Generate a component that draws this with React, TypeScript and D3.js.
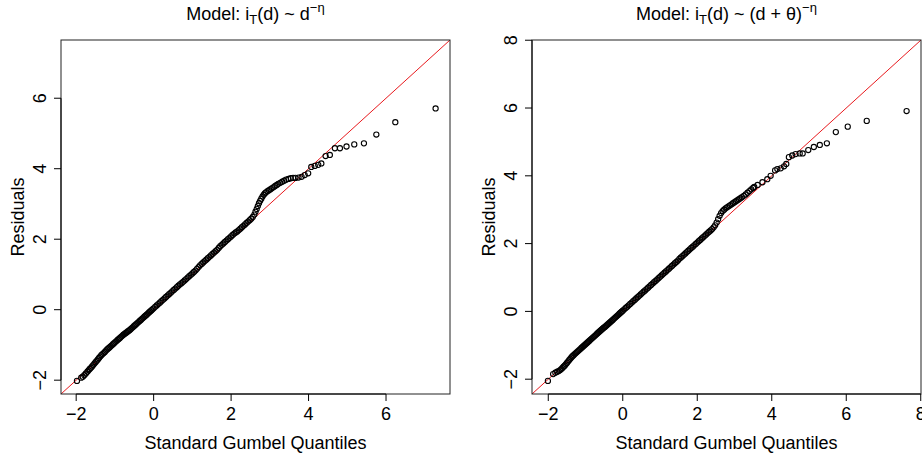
import * as d3 from 'd3';

// Q-Q points: [Gumbel quantile, residual]
const leftPoints: [number, number][] = [
  [-1.98, -2.02], [-1.87, -1.93], [-1.83, -1.9], [-1.79, -1.86], [-1.75, -1.81], [-1.71, -1.76],
  [-1.68, -1.72], [-1.65, -1.68], [-1.62, -1.65], [-1.59, -1.61], [-1.56, -1.57], [-1.53, -1.53],
  [-1.5, -1.49], [-1.47, -1.45], [-1.44, -1.41], [-1.41, -1.37], [-1.38, -1.33], [-1.35, -1.29],
  [-1.32, -1.26], [-1.29, -1.23], [-1.26, -1.2], [-1.23, -1.16], [-1.2, -1.13], [-1.17, -1.1],
  [-1.14, -1.07], [-1.11, -1.04], [-1.08, -1.01], [-1.05, -0.98], [-1.02, -0.95], [-0.99, -0.92],
  [-0.96, -0.89], [-0.93, -0.86], [-0.9, -0.83], [-0.87, -0.8], [-0.84, -0.77], [-0.81, -0.74],
  [-0.78, -0.71], [-0.75, -0.69], [-0.72, -0.66], [-0.69, -0.64], [-0.66, -0.61], [-0.63, -0.59],
  [-0.6, -0.56], [-0.57, -0.53], [-0.54, -0.5], [-0.51, -0.47], [-0.48, -0.44], [-0.45, -0.41],
  [-0.42, -0.38], [-0.39, -0.35], [-0.36, -0.32], [-0.33, -0.29], [-0.3, -0.26], [-0.27, -0.23],
  [-0.24, -0.2], [-0.21, -0.17], [-0.18, -0.14], [-0.15, -0.11], [-0.12, -0.08], [-0.09, -0.05],
  [-0.06, -0.02], [-0.03, 0.01],
  [0.0, 0.04], [0.04, 0.08], [0.08, 0.12], [0.12, 0.16], [0.16, 0.2], [0.2, 0.24], [0.24, 0.28],
  [0.28, 0.32], [0.32, 0.36], [0.36, 0.4], [0.4, 0.44], [0.44, 0.48], [0.48, 0.52], [0.52, 0.56],
  [0.56, 0.6], [0.6, 0.64], [0.64, 0.68], [0.68, 0.72], [0.72, 0.75], [0.76, 0.79], [0.8, 0.83],
  [0.84, 0.87], [0.88, 0.91], [0.92, 0.95], [0.96, 0.99], [1.0, 1.03], [1.04, 1.07], [1.08, 1.11],
  [1.12, 1.16], [1.16, 1.21], [1.2, 1.26], [1.24, 1.3], [1.28, 1.34], [1.32, 1.38], [1.36, 1.42],
  [1.4, 1.46], [1.44, 1.5], [1.48, 1.54], [1.52, 1.58], [1.56, 1.62], [1.6, 1.66], [1.64, 1.7],
  [1.68, 1.75], [1.72, 1.8], [1.76, 1.84], [1.8, 1.88], [1.84, 1.92], [1.88, 1.96], [1.92, 2.0],
  [1.96, 2.04], [2.0, 2.08], [2.04, 2.12], [2.08, 2.16], [2.12, 2.19], [2.16, 2.22], [2.2, 2.26],
  [2.24, 2.3], [2.28, 2.34], [2.32, 2.38], [2.36, 2.42],
  [2.4, 2.46], [2.44, 2.5], [2.48, 2.54], [2.52, 2.58], [2.56, 2.63], [2.6, 2.7], [2.63, 2.78],
  [2.66, 2.86], [2.69, 2.94], [2.72, 3.02], [2.75, 3.09], [2.78, 3.15], [2.81, 3.21], [2.84, 3.26],
  [2.87, 3.3], [2.9, 3.33], [2.94, 3.36], [2.98, 3.39], [3.02, 3.42], [3.06, 3.45], [3.1, 3.48],
  [3.14, 3.51], [3.18, 3.54], [3.22, 3.57], [3.27, 3.6], [3.32, 3.63], [3.37, 3.66], [3.42, 3.69],
  [3.48, 3.71], [3.54, 3.73], [3.6, 3.74], [3.66, 3.74],
  [3.74, 3.75], [3.82, 3.77], [3.9, 3.82], [3.99, 3.87], [4.07, 4.05], [4.16, 4.08], [4.25, 4.11],
  [4.33, 4.15], [4.44, 4.36], [4.55, 4.39], [4.68, 4.58], [4.81, 4.58], [4.98, 4.63], [5.18, 4.69],
  [5.43, 4.72], [5.75, 4.97], [6.24, 5.32], [7.28, 5.71],
];

const rightPoints: [number, number][] = [
  [-2.01, -2.05], [-1.87, -1.85], [-1.81, -1.81], [-1.76, -1.78], [-1.72, -1.76], [-1.68, -1.73],
  [-1.65, -1.7], [-1.62, -1.67], [-1.59, -1.63], [-1.56, -1.6], [-1.53, -1.56], [-1.5, -1.52],
  [-1.47, -1.48], [-1.44, -1.44], [-1.41, -1.4], [-1.38, -1.36], [-1.35, -1.32], [-1.32, -1.29],
  [-1.29, -1.26], [-1.26, -1.23], [-1.23, -1.2], [-1.2, -1.17], [-1.17, -1.14], [-1.14, -1.11],
  [-1.11, -1.08], [-1.08, -1.05], [-1.05, -1.02], [-1.02, -0.99], [-0.99, -0.96], [-0.96, -0.93],
  [-0.93, -0.9], [-0.9, -0.87], [-0.87, -0.84], [-0.84, -0.81], [-0.81, -0.78], [-0.78, -0.75],
  [-0.75, -0.72], [-0.72, -0.69], [-0.69, -0.66], [-0.66, -0.63], [-0.63, -0.6], [-0.6, -0.57],
  [-0.57, -0.54], [-0.54, -0.51], [-0.51, -0.48], [-0.48, -0.46], [-0.45, -0.43], [-0.42, -0.4],
  [-0.39, -0.37], [-0.36, -0.34], [-0.33, -0.31], [-0.3, -0.28], [-0.27, -0.25], [-0.24, -0.22],
  [-0.21, -0.19], [-0.18, -0.16], [-0.15, -0.13], [-0.12, -0.1], [-0.09, -0.07], [-0.06, -0.04],
  [-0.03, -0.01],
  [0.0, 0.02], [0.04, 0.06], [0.08, 0.1], [0.12, 0.14], [0.16, 0.18], [0.2, 0.22], [0.24, 0.26],
  [0.28, 0.3], [0.32, 0.34], [0.36, 0.38], [0.4, 0.42], [0.44, 0.46], [0.48, 0.5], [0.52, 0.54],
  [0.56, 0.58], [0.6, 0.62], [0.64, 0.66], [0.68, 0.7], [0.72, 0.74], [0.76, 0.78], [0.8, 0.82],
  [0.84, 0.86], [0.88, 0.9], [0.92, 0.94], [0.96, 0.98], [1.0, 1.02], [1.04, 1.06], [1.08, 1.1],
  [1.12, 1.14], [1.16, 1.18], [1.2, 1.22], [1.24, 1.26], [1.28, 1.3], [1.32, 1.34], [1.36, 1.38],
  [1.4, 1.42], [1.44, 1.46], [1.48, 1.5], [1.52, 1.55], [1.56, 1.59], [1.6, 1.63], [1.64, 1.67],
  [1.68, 1.71], [1.72, 1.75], [1.76, 1.79], [1.8, 1.83], [1.84, 1.87], [1.88, 1.91], [1.92, 1.95],
  [1.96, 1.99], [2.0, 2.03], [2.04, 2.07], [2.08, 2.11], [2.12, 2.15], [2.16, 2.19], [2.2, 2.23],
  [2.24, 2.27], [2.28, 2.31], [2.32, 2.35], [2.36, 2.39],
  [2.4, 2.43], [2.44, 2.48], [2.48, 2.54], [2.52, 2.62], [2.56, 2.72], [2.6, 2.82], [2.64, 2.9],
  [2.68, 2.96], [2.72, 3.0], [2.76, 3.04], [2.8, 3.07], [2.84, 3.1], [2.88, 3.13], [2.92, 3.16],
  [2.96, 3.19], [3.0, 3.22], [3.04, 3.25], [3.08, 3.28], [3.12, 3.31], [3.16, 3.34], [3.2, 3.37],
  [3.25, 3.41], [3.3, 3.45], [3.35, 3.5], [3.4, 3.55], [3.45, 3.6], [3.5, 3.64],
  [3.53, 3.67], [3.62, 3.73], [3.75, 3.81], [3.88, 3.9], [3.97, 4.0], [4.09, 4.16], [4.15, 4.2],
  [4.24, 4.22], [4.33, 4.28], [4.39, 4.35], [4.46, 4.55], [4.55, 4.6], [4.64, 4.64], [4.75, 4.66],
  [4.83, 4.66], [4.98, 4.76], [5.13, 4.85], [5.29, 4.91], [5.48, 4.96], [5.72, 5.29], [6.04, 5.45],
  [6.55, 5.62], [7.62, 5.91],
];

const xTitle = 'Standard Gumbel Quantiles';
const yTitle = 'Residuals';

const FONT = '"Liberation Sans", Arial, Helvetica, sans-serif';
const FS = 18;

type PanelProps = {
  points: [number, number][];
  x0: number;
  x1: number;
  y0: number;
  y1: number;
  title: React.ReactNode;
};

function Panel({ points, x0, x1, y0, y1, title }: PanelProps) {
  // same limits on both axes, like qqplot with a shared range (+4% as R does)
  const [lo, hi] = d3.extent(points.flat()) as [number, number];
  const pad = (hi - lo) * 0.04;
  const x = d3.scaleLinear().domain([lo - pad, hi + pad]).range([x0, x1]);
  const y = d3.scaleLinear().domain([lo - pad, hi + pad]).range([y1, y0]);
  const xTicks = x.ticks(5);
  const yTicks = y.ticks(5);
  const fmt = x.tickFormat(5);
  const tick = 7;
  const [d0, d1] = x.domain();

  return (
    <g fontFamily={FONT} fontSize={FS}>
      <clipPath id={`clip-${x0}`}>
        <rect x={x0} y={y0} width={x1 - x0} height={y1 - y0} />
      </clipPath>
      <line
        x1={x(d0)} y1={y(d0)} x2={x(d1)} y2={y(d1)}
        stroke="#e8191d" strokeWidth={1} clipPath={`url(#clip-${x0})`}
      />
      {points.map((p, i) => (
        <circle key={i} cx={x(p[0])} cy={y(p[1])} r={2.6} fill="none" stroke="#000" strokeWidth={1.1} />
      ))}
      <rect x={x0} y={y0} width={x1 - x0} height={y1 - y0} fill="none" stroke="#222" strokeWidth={1} />

      {/* x axis */}
      <line x1={x(xTicks[0])} x2={x(xTicks[xTicks.length - 1])} y1={y1} y2={y1} stroke="#000" />
      {xTicks.map(t => (
        <g key={t}>
          <line x1={x(t)} x2={x(t)} y1={y1} y2={y1 + tick} stroke="#000" />
          <text x={x(t)} y={y1 + 26} textAnchor="middle">{fmt(t)}</text>
        </g>
      ))}
      <text x={(x0 + x1) / 2} y={y1 + 55} textAnchor="middle">{xTitle}</text>

      {/* y axis */}
      <line x1={x0} x2={x0} y1={y(yTicks[0])} y2={y(yTicks[yTicks.length - 1])} stroke="#000" />
      {yTicks.map(t => (
        <g key={t}>
          <line x1={x0} x2={x0 - tick} y1={y(t)} y2={y(t)} stroke="#000" />
          <text
            transform={`translate(${x0 - 15},${y(t)}) rotate(-90)`}
            textAnchor="middle"
          >{fmt(t)}</text>
        </g>
      ))}
      <text transform={`translate(${x0 - 37},${(y0 + y1) / 2}) rotate(-90)`} textAnchor="middle">
        {yTitle}
      </text>

      <text x={(x0 + x1) / 2} y={20} textAnchor="middle">{title}</text>
    </g>
  );
}

export default function App() {
  const leftTitle = (
    <>
      Model: i<tspan dy={4} fontSize={13}>T</tspan>
      <tspan dy={-4}>(d) ~ d</tspan>
      <tspan dy={-8} fontSize={13}>−η</tspan>
    </>
  );
  const rightTitle = (
    <>
      Model: i<tspan dy={4} fontSize={13}>T</tspan>
      <tspan dy={-4}>(d) ~ (d + θ)</tspan>
      <tspan dy={-8} fontSize={13}>−η</tspan>
    </>
  );
  return (
    <svg
      width={922}
      height={455}
      style={{ position: 'absolute', left: 0, top: 0, background: '#fff' }}
    >
      <Panel points={leftPoints} x0={61} x1={450} y0={40} y1={394} title={leftTitle} />
      <Panel points={rightPoints} x0={532} x1={921} y0={40} y1={394} title={rightTitle} />
    </svg>
  );
}
